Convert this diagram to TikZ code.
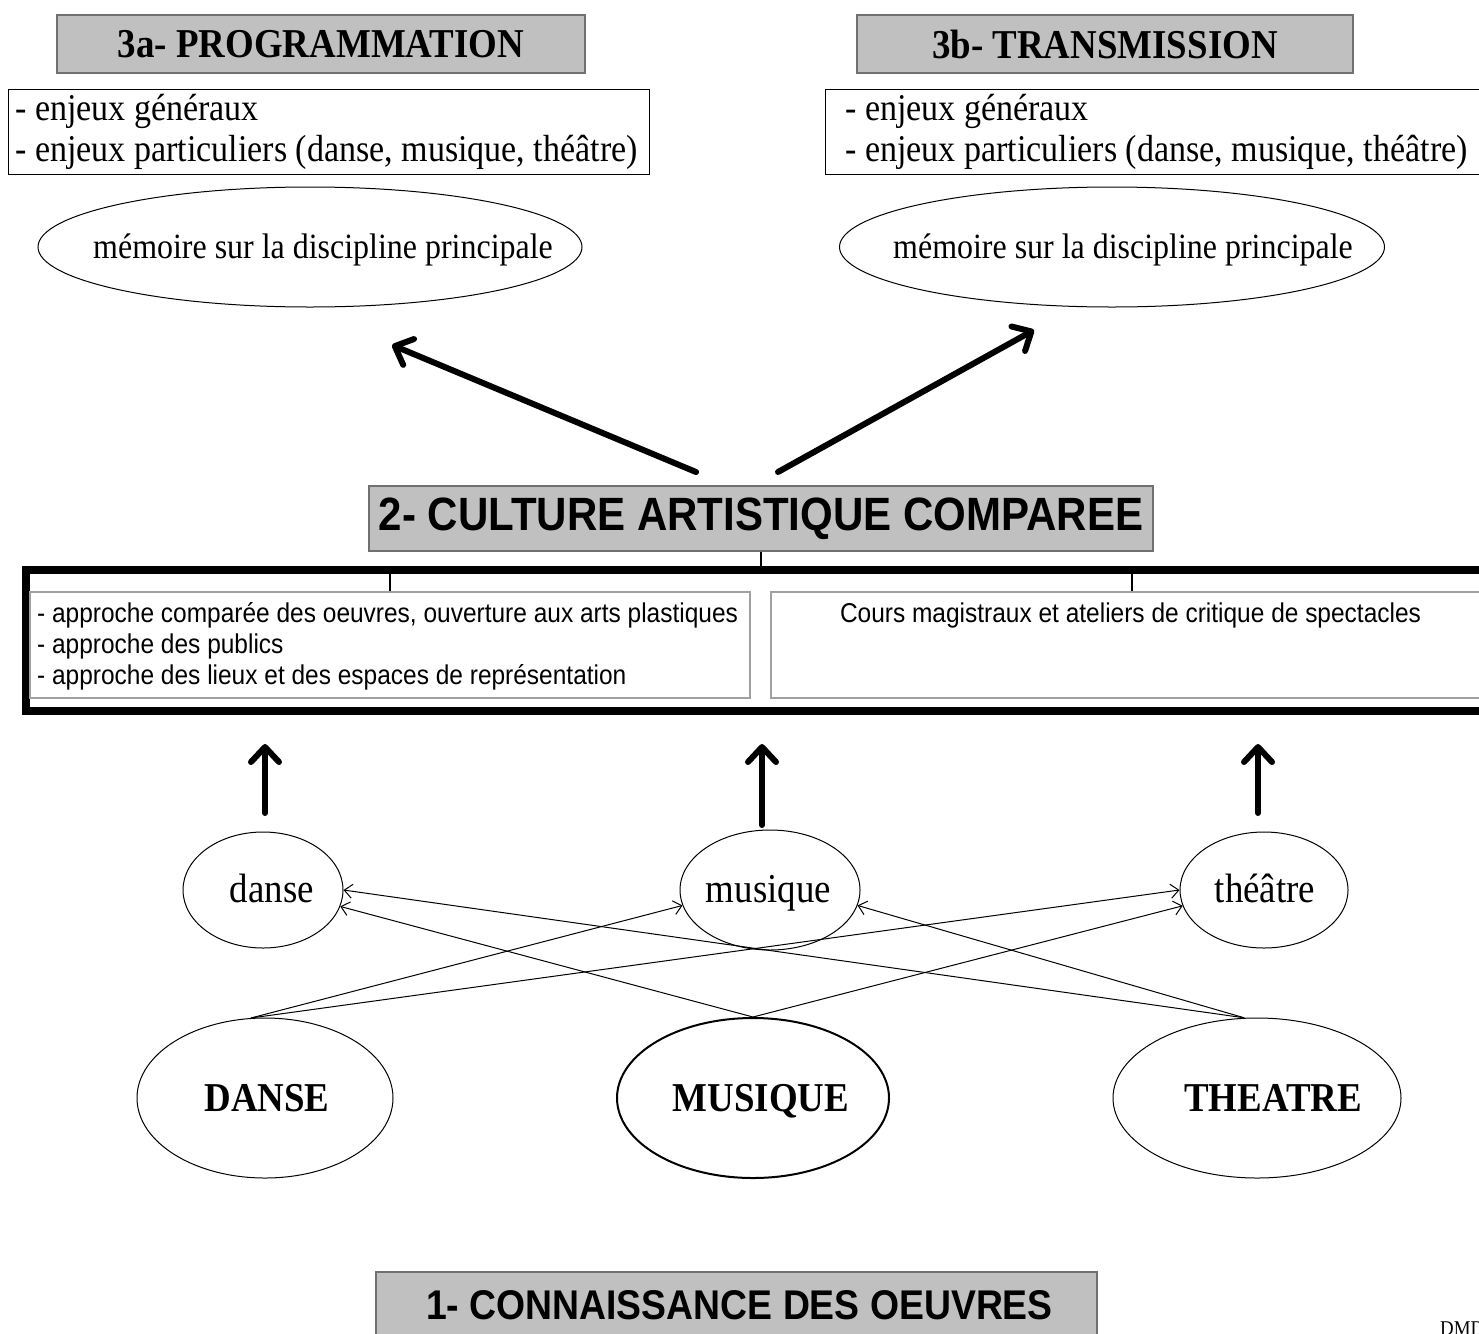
\documentclass[tikz,border=0pt]{standalone}
\usepackage{fontspec}
\setmainfont{Liberation Serif}[FakeStretch=0.9]
\setsansfont{Liberation Sans}[FakeStretch=0.9]
\usetikzlibrary{shapes.geometric,arrows.meta}
\definecolor{graybg}{HTML}{C0C0C0}
\definecolor{boxline}{HTML}{707070}
\definecolor{innerline}{HTML}{A0A0A0}
\newcommand{\bodyfont}{\fontsize{37.8}{40}\selectfont}
\newcommand{\memfont}{\fontsize{35.5}{38}\selectfont}
\newcommand{\nodefont}{\fontsize{41}{44}\selectfont}
\newcommand{\smallsans}{\sffamily\fontsize{27.2}{30}\selectfont}
\begin{document}
\begin{tikzpicture}[x=1pt,y=-1pt,
  titlebox/.style={draw=boxline, line width=1.2pt, fill=graybg, inner sep=0pt},
  plainbox/.style={draw=black, line width=1pt, inner sep=0pt},
  innerbox/.style={draw=innerline, line width=2pt, inner sep=0pt},
  ell/.style={ellipse, draw=black, line width=1pt, inner sep=0pt},
  txt/.style={inner sep=0pt, anchor=base},
  ltxt/.style={inner sep=0pt, anchor=base west},
  bigarrow/.style={line width=6pt, line cap=round, -{Straight Barb[length=15pt,width=28pt,round]}},
  smallarrow/.style={line width=1pt, -{Straight Barb[length=8pt,width=14pt]}},
  joinline/.style={line width=1.2pt},
]
\useasboundingbox (0,0) rectangle (1479,1333);
\clip (0,0) rectangle (1479,1333);

% top titles
\node[titlebox, minimum width=528pt, minimum height=58pt, font=\bfseries\fontsize{41}{44}\selectfont] (t3a) at (321,44) {3a- PROGRAMMATION};
\node[titlebox, minimum width=496pt, minimum height=58pt, font=\bfseries\fontsize{41}{44}\selectfont] (t3b) at (1105,44) {3b- TRANSMISSION};

% enjeux boxes
\node[plainbox, minimum width=641pt, minimum height=85pt] (eL) at (328.5,131.5) {};
\node[ltxt, font=\bodyfont] (eL1) at (15,120) {- enjeux généraux};
\node[ltxt, font=\bodyfont] (eL2) at (15,161) {- enjeux particuliers (danse, musique, théâtre)};
\node[plainbox, minimum width=700pt, minimum height=85pt] (eR) at (1175,131.5) {};
\node[ltxt, font=\bodyfont] (eR1) at (845,120) {- enjeux généraux};
\node[ltxt, font=\bodyfont] (eR2) at (845,161) {- enjeux particuliers (danse, musique, théâtre)};

% memoire ellipses
\node[ell, minimum width=544pt, minimum height=120pt] (mL) at (310,247) {};
\node[txt, font=\memfont] (mLt) at (323,258) {mémoire sur la discipline principale};
\node[ell, minimum width=545pt, minimum height=120pt] (mR) at (1112,247) {};
\node[txt, font=\memfont] (mRt) at (1123,258) {mémoire sur la discipline principale};

% arrows to level 3
\coordinate (a3Ls) at (696,472);
\coordinate (a3Le) at (392,345);
\coordinate (a3Rs) at (778,472);
\coordinate (a3Re) at (1034,330);
\draw[bigarrow] (a3Ls) -- (a3Le);
\draw[bigarrow] (a3Rs) -- (a3Re);

% level 2
\node[titlebox, minimum width=784pt, minimum height=65pt, font=\sffamily\bfseries\fontsize{46.7}{50}\selectfont] (c2) at (761,518.5) {2- CULTURE ARTISTIQUE COMPAREE};

% thick frame
\coordinate (frTL) at (26,569.5);
\coordinate (frBR) at (1500,711);
\draw[line width=8pt] (frTL) rectangle (frBR);
\coordinate (frTop) at (761,566);
\draw[joinline] (c2.south) -- (frTop);

% inner boxes
\node[innerbox, minimum width=720pt, minimum height=106pt] (bL) at (390,645) {};
\node[innerbox, minimum width=760pt, minimum height=106pt] (bR) at (1151,645) {};
\coordinate (jL) at (390,573);
\coordinate (jR) at (1132,573);
\draw[joinline] (jL) -- (jL |- bL.north);
\draw[joinline] (jR) -- (jR |- bR.north);
\node[ltxt, font=\smallsans] (bL1) at (37,622) {- approche comparée des oeuvres, ouverture aux arts plastiques};
\node[ltxt, font=\smallsans] (bL2) at (37,653) {- approche des publics};
\node[ltxt, font=\smallsans] (bL3) at (37,684) {- approche des lieux et des espaces de représentation};
\node[txt, font=\smallsans] (bR1) at (1130.5,622) {Cours magistraux et ateliers de critique de spectacles};

% small ellipses
\node[ell, minimum width=160pt, minimum height=116pt] (sD) at (263,890) {};
\node[txt, font=\nodefont] (sDt) at (272,902) {danse};
\node[ell, minimum width=180pt, minimum height=120pt] (sM) at (770,890) {};
\node[txt, font=\nodefont] (sMt) at (768.5,902) {musique};
\node[ell, minimum width=168pt, minimum height=116pt] (sT) at (1264,890) {};
\node[txt, font=\nodefont] (sTt) at (1265,902) {théâtre};

% vertical arrows to level 2
\coordinate (vDs) at (265,813);
\coordinate (vDe) at (265,744);
\coordinate (vMs) at (762,825);
\coordinate (vMe) at (762,744);
\coordinate (vTs) at (1258,813);
\coordinate (vTe) at (1258,744);
\draw[bigarrow] (vDs) -- (vDe);
\draw[bigarrow] (vMs) -- (vMe);
\draw[bigarrow] (vTs) -- (vTe);

% big ellipses
\node[ell, minimum width=256pt, minimum height=160pt] (BD) at (265,1098) {};
\node[txt, font=\bfseries\nodefont] (BDt) at (267,1111) {DANSE};
\node[ell, line width=2pt, minimum width=272pt, minimum height=160pt] (BM) at (753,1098) {};
\node[txt, font=\bfseries\nodefont] (BMt) at (761,1111) {MUSIQUE};
\node[ell, minimum width=288pt, minimum height=160pt] (BT) at (1257,1098) {};
\node[txt, font=\bfseries\nodefont] (BTt) at (1273,1111) {THEATRE};

% cross arrows
\draw[smallarrow] (BD.100) -- (sM.190);
\draw[smallarrow] (BD.100) -- (sT.180);
\draw[smallarrow] (BM.north) -- (sD.-12);
\draw[smallarrow] (BM.north) -- (sT.191);
\draw[smallarrow] (BT.99) -- (sD.east);
\draw[smallarrow] (BT.99) -- (sM.-10);

% level 1
\node[titlebox, minimum width=721pt, minimum height=72pt] (c1) at (736.5,1308) {};
\node[font=\sffamily\bfseries\fontsize{41.5}{44}\selectfont, inner sep=0pt] (c1t) at (739.5,1305) {1- CONNAISSANCE DES OEUVRES};

\node[ltxt, font=\fontsize{21}{24}\selectfont] (dmd) at (1440,1335) {DMD};
\end{tikzpicture}
\end{document}
